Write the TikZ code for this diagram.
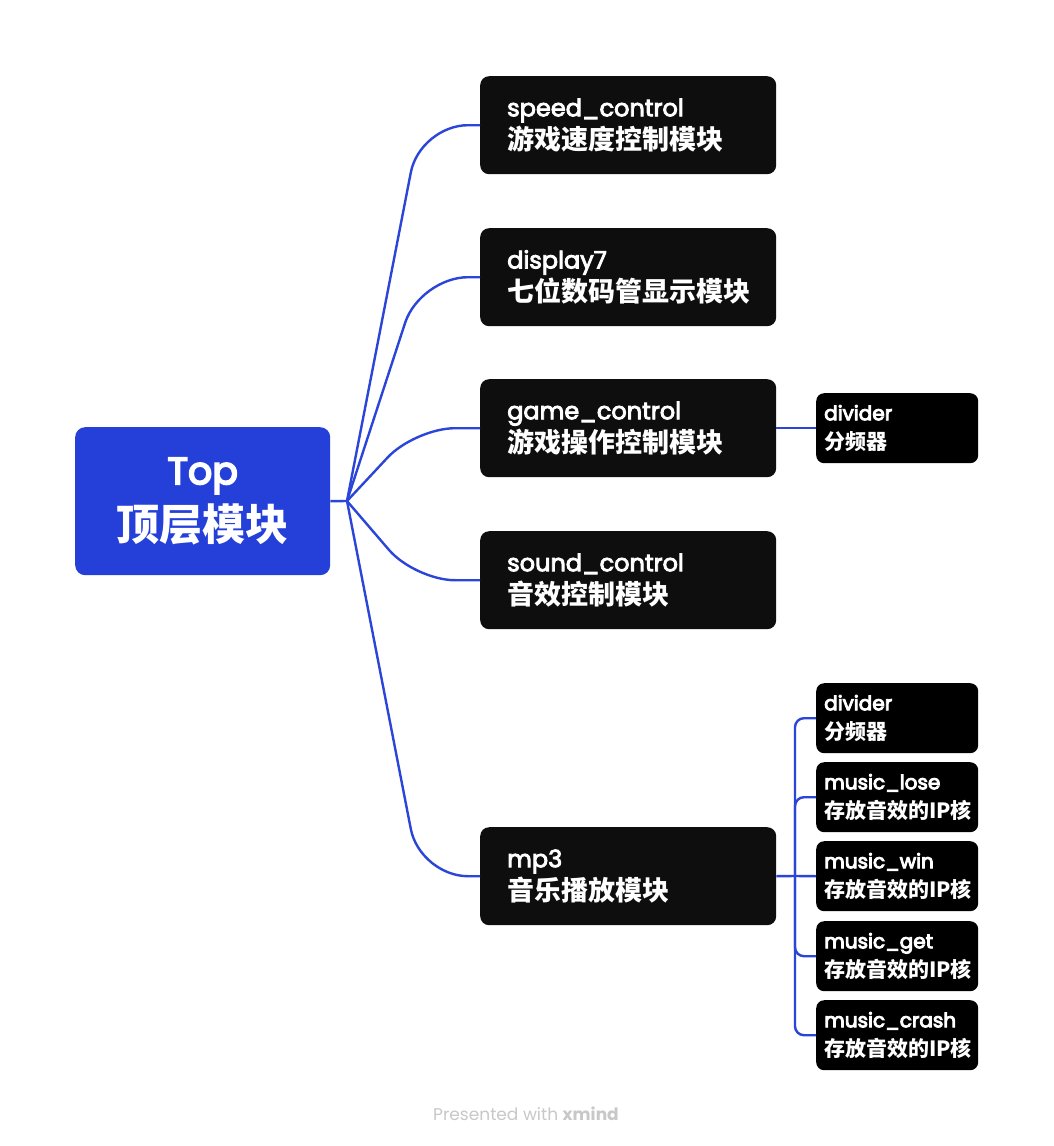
\documentclass[tikz,border=0pt]{standalone}
\usepackage{fontspec}
\setmainfont{Poppins}
\newfontfamily\latf{Poppins}[FakeBold=3.5]
\newfontfamily\latb{Poppins}[FakeBold=4.5]
\newfontfamily\cjk{Noto Sans CJK SC}
\definecolor{topblue}{HTML}{2540D9}
\definecolor{nodeblack}{HTML}{0E0E0E}
\definecolor{lineblue}{HTML}{2B45D8}
\definecolor{footgray}{HTML}{C8C8C8}
\newcommand{\zh}[1]{{\cjk\bfseries\fontsize{27}{33}\selectfont #1}}
\newcommand{\szh}[1]{{\cjk\bfseries\fontsize{21}{29}\selectfont #1}}
\begin{document}
\begin{tikzpicture}[x=1pt,y=-1pt,
  mainbox/.style={fill=nodeblack, rounded corners=9pt, anchor=north west, text=white,
    align=left, text width=242pt, inner xsep=27pt, inner ysep=0pt, minimum height=98pt,
    font=\latf\fontsize{24}{33}\selectfont},
  subbox/.style={fill=black, rounded corners=8pt, anchor=north west, text=white,
    align=left, text width=146pt, inner xsep=8pt, inner ysep=0pt, minimum height=70pt,
    font=\latb\fontsize{20}{29}\selectfont},
  topbox/.style={fill=topblue, rounded corners=10pt, anchor=north west, text=white,
    align=center, text width=255pt, inner xsep=0pt, inner ysep=0pt, minimum height=148pt,
    font=\latb\fontsize{38}{56}\selectfont},
  conn/.style={draw=lineblue, line width=2.4pt},
  curve/.style={conn, rounded corners=48pt},
  tree/.style={conn, rounded corners=9pt}]
\useasboundingbox[fill=white] (0,0) rectangle (1054,1146);

\node[topbox] (top) at (75,427) {Top\\{\cjk\bfseries\fontsize{43}{56}\selectfont 顶层模块}};

\node[mainbox] (speed) at (480,76) {speed\_control\\\zh{游戏速度控制模块}};
\node[mainbox] (disp) at (480,228) {display7\\\zh{七位数码管显示模块}};
\node[mainbox] (game) at (480,379) {game\_control\\\zh{游戏操作控制模块}};
\node[mainbox] (sound) at (480,531) {sound\_control\\\zh{音效控制模块}};
\node[mainbox] (mp3) at (480,827) {mp3\\\zh{音乐播放模块}};

\node[subbox] (gdiv) at (816,393) {divider\\\szh{分频器}};
\node[subbox] (mdiv) at (816,683) {divider\\\szh{分频器}};
\node[subbox] (lose) at (816,762) {music\_lose\\\szh{存放音效的IP核}};
\node[subbox] (win) at (816,841) {music\_win\\\szh{存放音效的IP核}};
\node[subbox] (get) at (816,921) {music\_get\\\szh{存放音效的IP核}};
\node[subbox] (crash) at (816,1000) {music\_crash\\\szh{存放音效的IP核}};

\coordinate (J) at (347,501);
\draw[conn] (top.east) -- (J);
\draw[curve] (J) -- ([xshift=-60pt]speed.west) -- (speed.west);
\draw[curve] (J) -- ([xshift=-60pt]disp.west) -- (disp.west);
\draw[conn, rounded corners=40pt] (J) -- ([xshift=-65pt]game.west) -- (game.west);
\draw[conn, rounded corners=40pt] (J) -- ([xshift=-65pt]sound.west) -- (sound.west);
\draw[curve] (J) -- ([xshift=-60pt]mp3.west) -- (mp3.west);

\draw[conn] (game.east) -- (gdiv.west);

\coordinate (S) at (795,876);
\draw[conn] (mp3.east) -- (S);
\draw[tree] (S) -- (S |- mdiv.west) -- (mdiv.west);
\draw[tree] (S) -- (S |- lose.west) -- (lose.west);
\draw[conn] (S) -- (win.west);
\draw[tree] (S) -- (S |- get.west) -- (get.west);
\draw[tree] (S) -- (S |- crash.west) -- (crash.west);

\node[text=footgray, font=\fontsize{17}{17}\selectfont] (foot) at (526,1114) {Presented with \textbf{xmind}};
\end{tikzpicture}
\end{document}
